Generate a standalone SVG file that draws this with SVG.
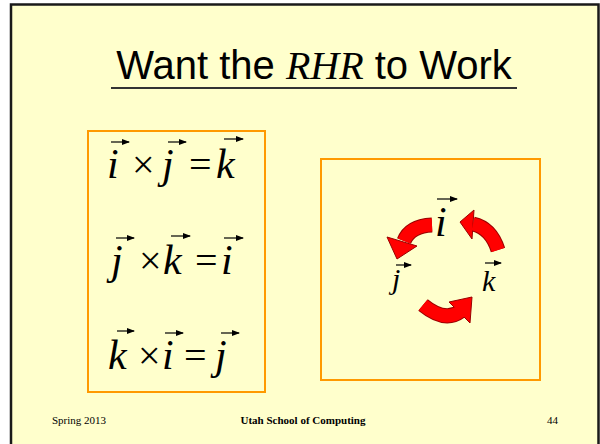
<svg xmlns="http://www.w3.org/2000/svg" width="600" height="444" viewBox="0 0 600 444">
  <defs>
    <style>
      .title { font-family: "Liberation Sans", Arial, sans-serif; font-size: 40px; fill: #000; }
      .ital { font-family: "Liberation Serif", "Times New Roman", serif; font-style: italic; }
      .m { font-family: "Liberation Serif", "Times New Roman", serif; font-size: 42px; font-style: italic; fill: #000; }
      .op { font-family: "Liberation Serif", "Times New Roman", serif; font-size: 40px; fill: #000; }
      .ms { font-family: "Liberation Serif", "Times New Roman", serif; font-size: 30px; font-style: italic; fill: #000; }
      .foot { font-family: "Liberation Serif", "Times New Roman", serif; font-size: 11px; fill: #000; }
      .box { fill: none; stroke: #FF9900; stroke-width: 2; }
      .vec { stroke: #000; stroke-width: 1.2; fill: none; marker-end: url(#vh); }
      .body-dark { fill: none; stroke: #9a0000; stroke-width: 15; }
      .body { fill: none; stroke: #FF0000; stroke-width: 13; }
      .head { fill: #FF0000; stroke: #9a0000; stroke-width: 1; stroke-linejoin: miter; }
    </style>
    <marker id="vh" viewBox="0 0 8 6" refX="7" refY="3" markerWidth="8" markerHeight="6" markerUnits="userSpaceOnUse" orient="auto">
      <path d="M0,0 L8,3 L0,6 Z" fill="#000"/>
    </marker>
  </defs>

  <!-- slide background and frame -->
  <rect x="0" y="0" width="600" height="444" fill="#FFFFFF"/>
  <rect x="11" y="4.5" width="587.5" height="450" fill="#FFFFCC" stroke="#1a1a1a" stroke-width="2.5"/>

  <!-- title -->
  <g id="title">
    <text class="title" x="314" y="79" text-anchor="middle">Want the <tspan class="ital">RHR</tspan> to Work</text>
    <line x1="111" y1="88" x2="517" y2="88" stroke="#333" stroke-width="2"/>
  </g>

  <!-- cross product identities -->
  <g id="equations">
    <rect class="box" x="88" y="131" width="177" height="261"/>
    <g id="eq1">
      <text class="m" x="107" y="178">i</text>
      <text class="op" x="132" y="178">×</text>
      <text class="m" x="162" y="178">j</text>
      <text class="op" x="189" y="178">=</text>
      <text class="m" x="216" y="178">k</text>
      <line class="vec" x1="111" y1="142" x2="129" y2="142"/>
      <line class="vec" x1="168" y1="142" x2="186" y2="142"/>
      <line class="vec" x1="224" y1="139" x2="243" y2="139"/>
    </g>
    <g id="eq2">
      <text class="m" x="111" y="274">j</text>
      <text class="op" x="139" y="274">×</text>
      <text class="m" x="163" y="274">k</text>
      <text class="op" x="195" y="274">=</text>
      <text class="m" x="221" y="274">i</text>
      <line class="vec" x1="116" y1="238" x2="134" y2="238"/>
      <line class="vec" x1="171" y1="236" x2="190" y2="236"/>
      <line class="vec" x1="224" y1="238" x2="243" y2="238"/>
    </g>
    <g id="eq3">
      <text class="m" x="108" y="369">k</text>
      <text class="op" x="138" y="369">×</text>
      <text class="m" x="162" y="369">i</text>
      <text class="op" x="184" y="369">=</text>
      <text class="m" x="215" y="369">j</text>
      <line class="vec" x1="117" y1="331" x2="134" y2="331"/>
      <line class="vec" x1="165" y1="333" x2="183" y2="333"/>
      <line class="vec" x1="221" y1="333" x2="239" y2="333"/>
    </g>
  </g>

  <!-- cyclic order diagram -->
  <g id="cycle">
    <rect class="box" x="321" y="159" width="219" height="221"/>
    <g id="vec-i">
      <text class="m" x="435" y="236">i</text>
      <line class="vec" x1="437" y1="199" x2="457" y2="199"/>
    </g>
    <g id="vec-j">
      <text class="ms" x="392" y="289">j</text>
      <line class="vec" x1="396" y1="265" x2="411" y2="265"/>
    </g>
    <g id="vec-k">
      <text class="ms" x="482" y="291">k</text>
      <line class="vec" x1="485" y1="263" x2="501" y2="263"/>
    </g>
  </g>

  <!-- curved arrows -->
  <g id="connectors">
    <g id="arrow-i-j">
      <path class="body-dark" d="M432,225 Q410,226 404,241"/>
      <polygon class="head" points="387,237 417,246 397,259"/>
      <path class="body" d="M432,225 Q410,226 404,241"/>
    </g>
    <g id="arrow-k-i">
      <path class="body-dark" d="M498,250 Q491,228 473,224"/>
      <polygon class="head" points="474,210 472,239 460,222"/>
      <path class="body" d="M498,250 Q491,228 473,224"/>
    </g>
    <g id="arrow-j-k">
      <path class="body-dark" d="M423,305 Q445,323 461,311"/>
      <polygon class="head" points="449,302 470,323 472,297"/>
      <path class="body" d="M423,305 Q445,323 461,311"/>
    </g>
  </g>

  <!-- footer -->
  <g id="footer">
    <text class="foot" x="52" y="424">Spring 2013</text>
    <text class="foot" x="303" y="424" text-anchor="middle" font-weight="bold">Utah School of Computing</text>
    <text class="foot" x="558" y="424" text-anchor="end">44</text>
  </g>
</svg>
